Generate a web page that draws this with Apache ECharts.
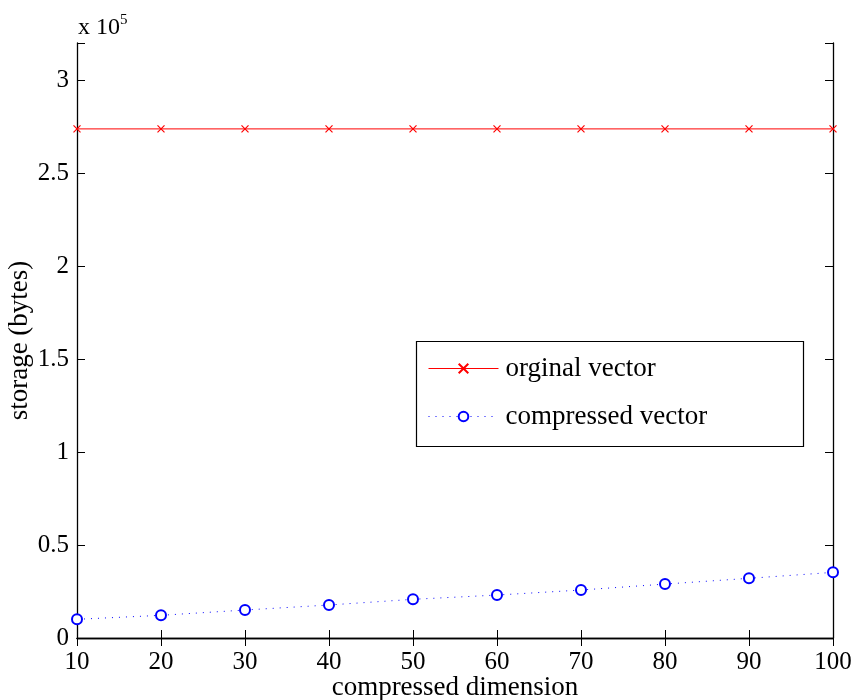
<!DOCTYPE html>
<html>
<head>
<meta charset="utf-8">
<script src="https://cdn.jsdelivr.net/npm/echarts@6/dist/echarts.min.js"></script>
<style>
  html, body { margin: 0; padding: 0; background: #fff; }
  #chart { width: 854px; height: 700px; }
</style>
</head>
<body>
<div id="chart"></div>
<script>
"use strict";

/* ---------- data ---------- */
const dims       = [10, 20, 30, 40, 50, 60, 70, 80, 90, 100];
const original   = [273800, 273800, 273800, 273800, 273800, 273800, 273800, 273800, 273800, 273800];
const compressed = [10050, 12200, 15050, 17750, 20800, 23100, 25800, 29000, 32100, 35300];
const seriesNames = ["orginal vector", "compressed vector"];

/* ---------- style ---------- */
const FONT = '"Liberation Serif", "DejaVu Serif", serif';
const RED = "#ff0000", BLUE = "#0000ff";
const CROSS = "path://M0,0L10,10M10,0L0,10";

const pairs = arr => dims.map((d, i) => [d, arr[i]]);

// MATLAB style: ticks point inward, box on all four sides
const tickIn = { show: true, inside: true, length: 8, lineStyle: { color: "#000", width: 1 } };
const line = { show: true, lineStyle: { color: "#000", width: 1.3 } };

const chart = echarts.init(document.getElementById("chart"));
chart.setOption({
    animation: false,
    textStyle: { fontFamily: FONT },
    title: {
        text: "x 10{s|5}",
        left: 78, top: 13, padding: 0,
        textStyle: {
            fontFamily: FONT, fontSize: 24, fontWeight: "normal", color: "#000",
            rich: { s: { fontFamily: FONT, fontSize: 15, verticalAlign: "top", padding: [0, 0, 14, 0] } }
        }
    },
    // fixed plot box, do not let labels push it around
    grid: { left: 77, right: 21, top: 43, bottom: 62, containLabel: false, outerBoundsMode: "none" },
    legend: {
        left: 428, top: 355, padding: 0,
        orient: "vertical",
        itemWidth: 70, itemHeight: 12, itemGap: 21,
        lineStyle: { width: 1 },
        textStyle: { fontFamily: FONT, fontSize: 27, color: "#000", padding: [0, 0, 0, 2] },
        data: seriesNames
    },
    graphic: [{
        type: "rect", left: 414, top: 339, z: 100,
        shape: { width: 387, height: 105 },
        style: { fill: "none", stroke: "#000", lineWidth: 1.2 }
    }],
    xAxis: [{
        type: "value", min: 10, max: 100, interval: 10,
        name: "compressed dimension", nameLocation: "middle", nameGap: 36, nameMoveOverlap: false,
        nameTextStyle: { fontFamily: FONT, fontSize: 27, color: "#000" },
        axisLine: line, axisTick: tickIn, splitLine: { show: false },
        axisLabel: { fontFamily: FONT, fontSize: 25, color: "#000", margin: 12 }
    }, {
        type: "value", min: 10, max: 100, interval: 10, position: "top",
        axisLine: line, axisTick: tickIn, axisLabel: { show: false }, splitLine: { show: false }
    }],
    yAxis: [{
        type: "value", min: 0, max: 320000, interval: 50000,
        name: "storage (bytes)", nameLocation: "middle", nameGap: 44, nameMoveOverlap: false,
        nameTextStyle: { fontFamily: FONT, fontSize: 27, color: "#000" },
        axisLine: line, axisTick: tickIn, splitLine: { show: false },
        axisLabel: {
            fontFamily: FONT, fontSize: 25, color: "#000", margin: 8,
            formatter: v => v > 300000 ? "" : String(v / 100000)
        }
    }, {
        type: "value", min: 0, max: 320000, interval: 50000, position: "right",
        axisLine: line, axisTick: tickIn, axisLabel: { show: false }, splitLine: { show: false }
    }],
    series: [{
        name: seriesNames[0], type: "line",
        data: pairs(original),
        symbol: CROSS, symbolSize: 7,
        lineStyle: { color: RED, width: 1 },
        itemStyle: { color: "none", borderColor: RED, borderWidth: 1.2 }
    }, {
        name: seriesNames[1], type: "line",
        data: pairs(compressed),
        symbol: "emptyCircle", symbolSize: 10,
        lineStyle: { color: BLUE, width: 1, type: [1, 6] },
        itemStyle: { color: BLUE, borderColor: BLUE, borderWidth: 1.2 }
    }]
});
</script>
</body>
</html>
